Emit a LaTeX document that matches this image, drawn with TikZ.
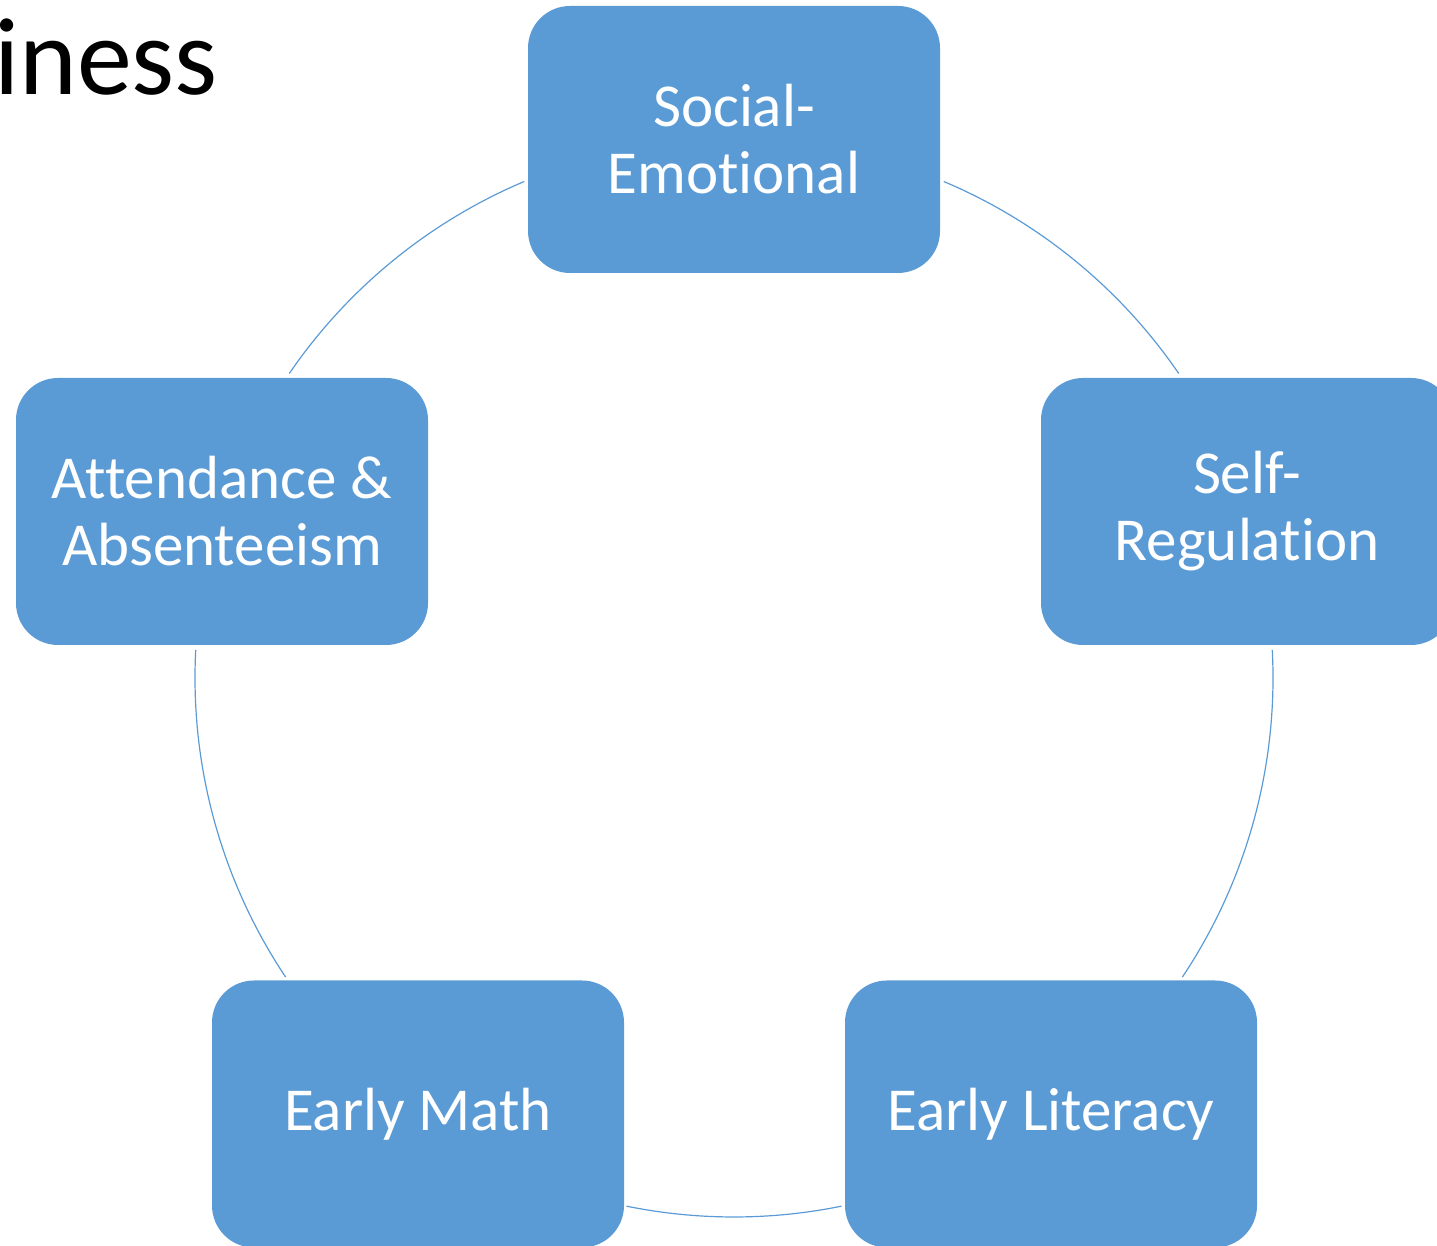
\documentclass[tikz,border=0pt]{standalone}
\usepackage{fontspec}
\setmainfont{Carlito}[RawFeature={-liga,-clig,-dlig}]
\usetikzlibrary{calc}
\definecolor{boxblue}{HTML}{5B9BD5}
\begin{document}
\begin{tikzpicture}[x=1pt,y=1pt,
  topic/.style={draw=none,fill=boxblue,rounded corners=42pt,minimum width=412pt,minimum height=267pt,inner sep=0pt,text=white,align=center,font=\fontsize{61}{67}\selectfont},
  ring/.style={draw=boxblue,line width=1.2pt}]
\useasboundingbox (0,0) rectangle (1437,1245);
\clip (0,0) rectangle (1437,1245);
\coordinate (c) at (734,567);
\node[anchor=base west,inner sep=0pt,font=\fontsize{110}{120}\selectfont] (title) at (-6,1150) {iness};
\node[topic] (se) at (734,1105.5) {Social-\\Emotional};
\node[topic] (sr) at (1247,733.5) {Self-\\Regulation};
\node[topic] (el) at (1051,131) {Early Literacy};
\node[topic] (em) at (418,131) {Early Math};
\node[topic] (ab) at (222,733.5) {Attendance \&\\Absenteeism};
\draw[ring] ($(c)+(112.9:539)$) arc[start angle=112.9,end angle=145.6,radius=539];
\draw[ring] ($(c)+(67.1:539)$) arc[start angle=67.1,end angle=34.4,radius=539];
\draw[ring] ($(c)+(3:539)$) arc[start angle=3,end angle=-33.7,radius=539];
\draw[ring] ($(c)+(281.5:539)$) arc[start angle=281.5,end angle=258.5,radius=539];
\draw[ring] ($(c)+(177:539)$) arc[start angle=177,end angle=213.7,radius=539];
\end{tikzpicture}
\end{document}
